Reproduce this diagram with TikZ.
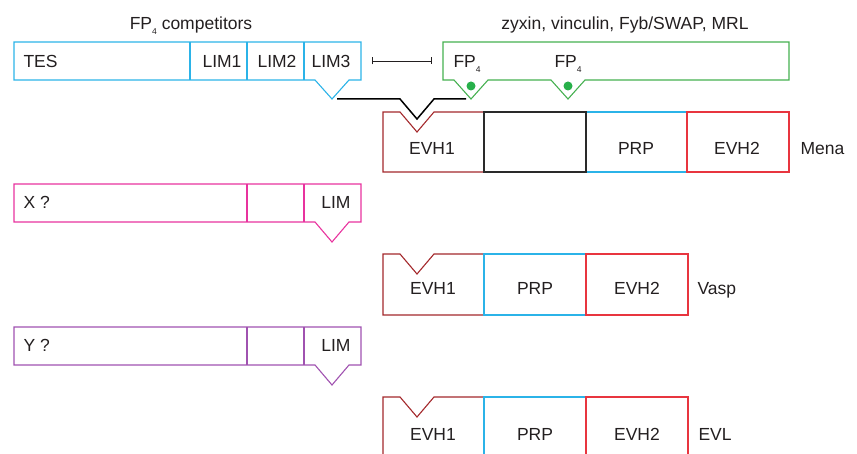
\documentclass[tikz,border=0pt]{standalone}
\usepackage{fontspec}
\setmainfont{Liberation Sans}
\usetikzlibrary{arrows.meta}
\definecolor{tesblue}{HTML}{2BB3E8}
\definecolor{fpgreen}{HTML}{45B050}
\definecolor{dotgreen}{HTML}{27B04A}
\definecolor{xpink}{HTML}{E8339E}
\definecolor{ypurple}{HTML}{A052B0}
\definecolor{evhone}{HTML}{A3282B}
\definecolor{evhtwo}{HTML}{E8353F}
\definecolor{prpblue}{HTML}{2BB3E8}
\definecolor{txt}{HTML}{231F20}
\definecolor{midbox}{HTML}{2A2A2A}

\newcommand\fpfour{FP\raisebox{-4.5pt}{\fontsize{8.5}{9}\selectfont 4}}

\begin{document}
\begin{tikzpicture}[x=1pt,y=-1pt,line width=1.1pt,line join=miter,
  lbl/.style={inner sep=0pt,text=txt,font=\fontsize{17.5}{20}\selectfont}]
\useasboundingbox (0,0) rectangle (857,454);
\clip (0,0) rectangle (857,454);

% ---- TES with its three LIM domains
\draw[tesblue] (14,42) -- (361,42) -- (361,80) -- (349,80) -- (332,99) -- (315,80) -- (14,80) -- cycle;
\draw[tesblue] (190,42) -- (190,80) (247,42) -- (247,80) (304,42) -- (304,80);

% ---- FP4 ligand with two FP4 motifs
\draw[fpgreen] (443,42) -- (789,42) -- (789,80) -- (585,80) -- (568,99) -- (551,80)
  -- (488,80) -- (471,99) -- (454,80) -- (443,80) -- cycle;
\fill[dotgreen] (471,86) circle (4.5pt) (568,86) circle (4.5pt);

% ---- competition between LIM3 and FP4 for EVH1
\coordinate (limtip) at (337,99);
\coordinate (fptip) at (466,99);
\draw[black,line width=1.5pt] (limtip) -- (400,99) -- (417,119) -- (434,99) -- (fptip);
\coordinate (inhA) at (372,61);
\coordinate (inhB) at (432,61);
\draw[txt,line width=0.8pt,{Bar[width=7pt]}-{Bar[width=7pt]}] (inhA) -- (inhB);

% ---- Mena
\draw[evhone] (383,112) -- (400,112) -- (417,132) -- (434,112) -- (484,112) -- (484,172) -- (383,172) -- cycle;
\draw[prpblue] (586,112) rectangle (687,172);
\draw[evhtwo] (687,112) rectangle (789,172);
\draw[midbox] (484,112) rectangle (586,172);

% ---- X
\draw[xpink] (14,184) -- (361,184) -- (361,222) -- (349,222) -- (332,242) -- (315,222) -- (14,222) -- cycle;
\draw[xpink] (247,184) -- (247,222) (304,184) -- (304,222);

% ---- Vasp
\draw[evhone] (383,254) -- (400,254) -- (417,274) -- (434,254) -- (484,254) -- (484,315) -- (383,315) -- cycle;
\draw[prpblue] (484,254) rectangle (586,315);
\draw[evhtwo] (586,254) rectangle (688,315);

% ---- Y
\draw[ypurple] (14,327) -- (361,327) -- (361,365) -- (349,365) -- (332,385) -- (315,365) -- (14,365) -- cycle;
\draw[ypurple] (247,327) -- (247,365) (304,327) -- (304,365);

% ---- EVL
\draw[evhone] (383,470) -- (383,397) -- (400,397) -- (417,417) -- (434,397) -- (484,397) -- (484,470);
\draw[prpblue] (484,470) -- (484,397) -- (586,397) -- (586,470);
\draw[evhtwo] (586,470) -- (586,397) -- (688,397) -- (688,470);

% ---- labels
\node[lbl,anchor=base] (fpcomp) at (191,30) {\fpfour\ competitors};
\node[lbl,anchor=base] (ligands) at (625,30) {zyxin, vinculin, Fyb/SWAP, MRL};
\node[lbl,anchor=base west] (tes) at (23,68) {TES};
\node[lbl,anchor=base] (limone) at (222,68) {LIM1};
\node[lbl,anchor=base] (limtwo) at (277,68) {LIM2};
\node[lbl,anchor=base] (limthree) at (331,68) {LIM3};
\node[lbl,anchor=base west] (fpa) at (453,68) {\fpfour};
\node[lbl,anchor=base west] (fpb) at (554,68) {\fpfour};

\node[lbl,anchor=base] (mevhone) at (432,155) {EVH1};
\node[lbl,anchor=base] (mprp) at (636,155) {PRP};
\node[lbl,anchor=base] (mevhtwo) at (737,155) {EVH2};
\node[lbl,anchor=base west] (mena) at (800,155) {Mena};

\node[lbl,anchor=base west] (xq) at (23,209) {X ?};
\node[lbl,anchor=base east] (xlim) at (351,209) {LIM};

\node[lbl,anchor=base] (vevhone) at (433,295) {EVH1};
\node[lbl,anchor=base] (vprp) at (535,295) {PRP};
\node[lbl,anchor=base] (vevhtwo) at (637,295) {EVH2};
\node[lbl,anchor=base west] (vasp) at (697,295) {Vasp};

\node[lbl,anchor=base west] (yq) at (23,352) {Y ?};
\node[lbl,anchor=base east] (ylim) at (351,352) {LIM};

\node[lbl,anchor=base] (eevhone) at (433,440) {EVH1};
\node[lbl,anchor=base] (eprp) at (535,440) {PRP};
\node[lbl,anchor=base] (eevhtwo) at (637,440) {EVH2};
\node[lbl,anchor=base west] (evl) at (698,440) {EVL};
\end{tikzpicture}
\end{document}
